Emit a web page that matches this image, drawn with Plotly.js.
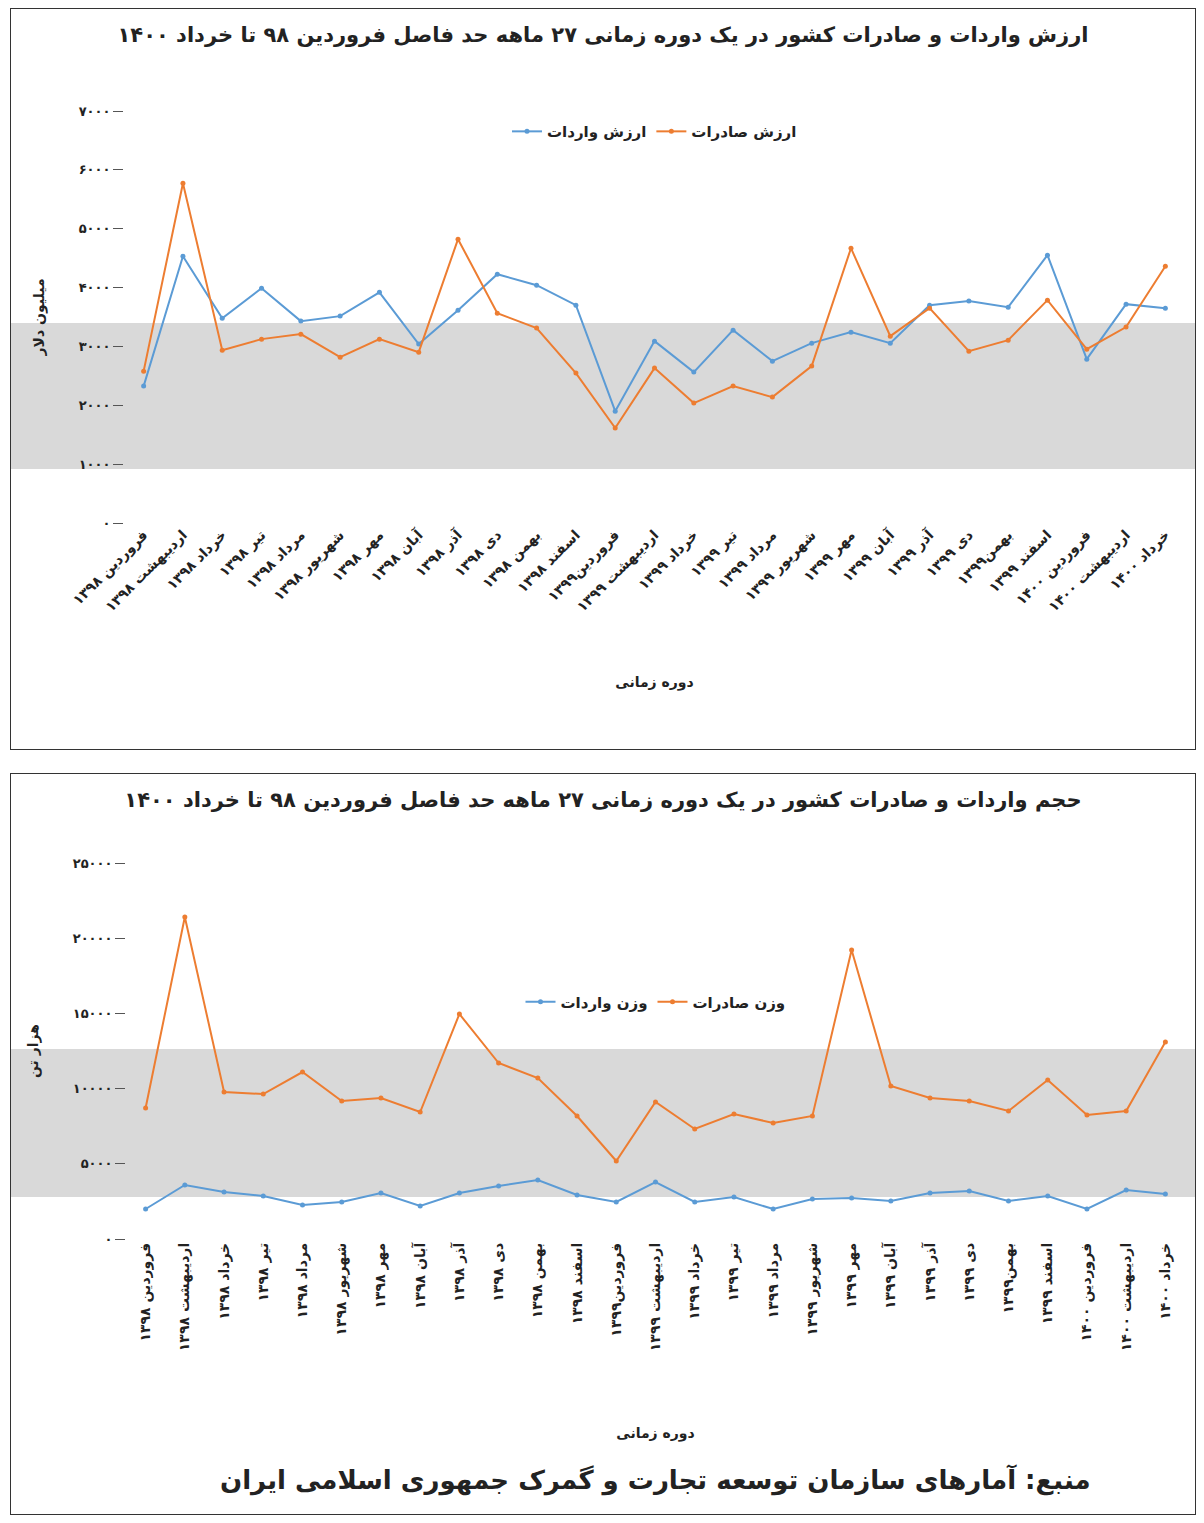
<!DOCTYPE html>
<html><head><meta charset="utf-8">
<script src="https://cdn.plot.ly/plotly-3.0.1.min.js"></script>
<style>
body{margin:0;background:#fff;}
.box{position:absolute;left:10px;width:1186px;height:742px;border:1px solid #333;box-sizing:border-box;}
</style></head><body>
<div id="c1" class="box" style="top:8px"></div>
<div id="c2" class="box" style="top:773px"></div>
<script>
const MONTHS = ['فروردین ۱۳۹۸','اردیبهشت ۱۳۹۸','خرداد ۱۳۹۸','تیر ۱۳۹۸','مرداد ۱۳۹۸','شهریور ۱۳۹۸','مهر ۱۳۹۸','آبان ۱۳۹۸','آذر ۱۳۹۸','دی ۱۳۹۸','بهمن ۱۳۹۸','اسفند ۱۳۹۸',
  'فروردین۱۳۹۹','اردیبهشت ۱۳۹۹','خرداد ۱۳۹۹','تیر ۱۳۹۹','مرداد ۱۳۹۹','شهریور ۱۳۹۹','مهر ۱۳۹۹','آبان ۱۳۹۹','آذر ۱۳۹۹','دی ۱۳۹۹','بهمن۱۳۹۹','اسفند ۱۳۹۹',
  'فروردین ۱۴۰۰','اردیبهشت ۱۴۰۰','خرداد ۱۴۰۰'];

const IMPORT_VALUE = [2326,4533,3480,3990,3430,3515,3920,3040,3616,4227,4040,3700,1900,3090,2564,3277,2750,3056,3243,3056,3700,3770,3667,4550,2784,3718,3650];
const EXPORT_VALUE = [2580,5772,2937,3124,3209,2818,3124,2903,4822,3565,3311,2547,1613,2632,2037,2326,2139,2666,4669,3175,3650,2920,3107,3786,2954,3328,4363];

const IMPORT_WEIGHT = [1995,3590,3125,2860,2260,2460,3060,2194,3060,3524,3923,2926,2460,3790,2460,2793,1995,2660,2726,2527,3060,3191,2527,2860,1995,3258,2992];
const EXPORT_WEIGHT = [8710,21410,9775,9640,11100,9175,9375,8444,14960,11700,10700,8178,5186,9110,7314,8311,7713,8178,19215,10173,9375,9175,8510,10572,8245,8510,13100];

const TICKS1 = [0,1000,2000,3000,4000,5000,6000,7000];
const TICKS2 = [0,5000,10000,15000,20000,25000];

const BLUE = '#5b9bd5', ORANGE = '#ed7d31';
const FONT = 'DejaVu Sans, sans-serif';
const fa = n => String(n).replace(/\d/g, d => '۰۱۲۳۴۵۶۷۸۹'[d]);
const CONFIG = { displayModeBar: false, staticPlot: true };

function line(name, x, y, color) {
  return { type: 'scatter', mode: 'lines+markers', name, x, y,
    line: { color, width: 2 }, marker: { color, size: 5 } };
}

function band(y0, y1) {
  return { type: 'rect', xref: 'paper', yref: 'y', x0: -0.12, x1: 1.02, y0, y1,
    fillcolor: '#d9d9d9', line: { width: 0 }, layer: 'below' };
}

function baseLayout(ticks, range, title, ytitle, margin, tickangle, legendY) {
  return {
    width: 1184, height: 740,
    paper_bgcolor: '#fff', plot_bgcolor: 'rgba(0,0,0,0)',
    font: { family: FONT, color: '#222', size: 12 },
    margin, showlegend: true,
    title: { text: '<b>' + title + '</b>', x: 0.5, y: 0.965, yanchor: 'middle', font: { size: 21, color: '#222' } },
    legend: { orientation: 'h', x: 0.5, xanchor: 'center', y: legendY, yanchor: 'middle',
      font: { size: 15, color: '#222', weight: 'bold' }, traceorder: 'normal' },
    xaxis: { type: 'category', range: [-0.5, 26.5], showgrid: false, showline: false, zeroline: false,
      tickangle, tickfont: { size: 14, color: '#222', weight: 'bold' }, ticks: '',
      title: { text: '<b>دوره زمانی</b>', font: { size: 14 } } },
    yaxis: { range, tickvals: ticks, ticktext: ticks.map(fa), showgrid: false, zeroline: false, showline: false,
      ticks: 'outside', ticklen: 10, tickcolor: '#555', tickfont: { size: 13, weight: 'bold' },
      title: { text: '<b>' + ytitle + '</b>', font: { size: 14 }, standoff: 30 } },
  };
}

// ===== 1. ارزش =====
const l1 = baseLayout(TICKS1, [0, 7000], 'ارزش واردات و صادرات کشور در یک دوره زمانی ۲۷ ماهه حد فاصل فروردین ۹۸ تا خرداد ۱۴۰۰',
  'میلیون دلار', { l: 113, r: 10, t: 102, b: 226 }, -45, 0.95);
l1.shapes = [band(917, 3396)];
l1.xaxis.title.standoff = 62;
Plotly.newPlot('c1', [
  line('ارزش واردات', MONTHS, IMPORT_VALUE, BLUE),
  line('ارزش صادرات', MONTHS, EXPORT_VALUE, ORANGE),
], l1, CONFIG);

// ===== 2. حجم =====
const l2 = baseLayout(TICKS2, [0, 25000], 'حجم واردات و صادرات کشور در یک دوره زمانی ۲۷ ماهه حد فاصل فروردین ۹۸ تا خرداد ۱۴۰۰',
  'هزار تن', { l: 115, r: 10, t: 89, b: 275 }, -90, 0.63);
l2.shapes = [band(2793, 12630)];
l2.xaxis.title.standoff = 78;
l2.annotations = [{ xref: 'paper', yref: 'paper', x: 0.5, y: -0.64, yanchor: 'middle', showarrow: false,
  text: '<b>منبع: آمارهای سازمان توسعه تجارت و گمرک جمهوری اسلامی ایران</b>', font: { size: 26, color: '#222' } }];
Plotly.newPlot('c2', [
  line('وزن واردات', MONTHS, IMPORT_WEIGHT, BLUE),
  line('وزن صادرات', MONTHS, EXPORT_WEIGHT, ORANGE),
], l2, CONFIG);
</script>
</body></html>
